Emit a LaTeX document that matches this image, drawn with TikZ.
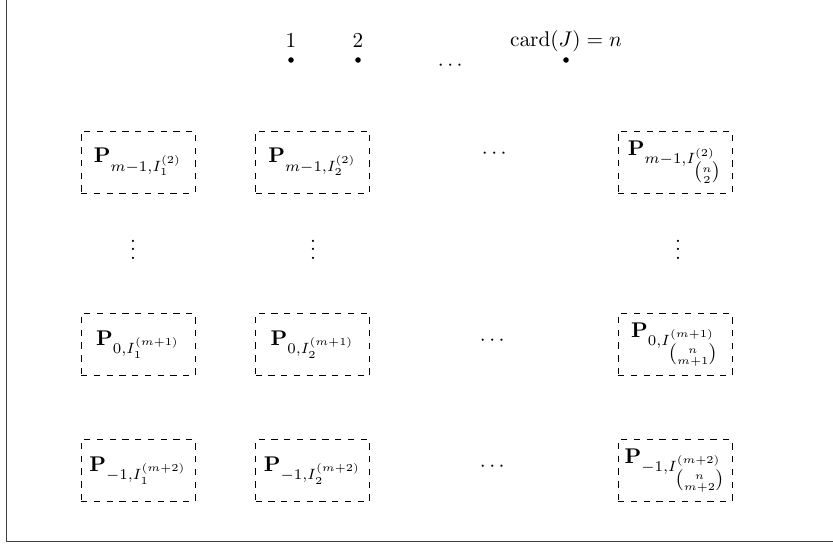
\documentclass[tikz,border=0pt]{standalone}
\usepackage{amsmath}
\begin{document}
\begin{tikzpicture}[x=0.4706pt,y=-0.4706pt,
  pbox/.style={draw,dashed,minimum width=53.6pt,minimum height=29.2pt,inner sep=0pt},
  dotnode/.style={circle,fill,inner sep=0pt,minimum size=2.6pt},
  frameline/.style={line width=0.6pt,black!75}]
\useasboundingbox (0,0) rectangle (833,543);
\coordinate (ftop) at (6.5,0);
\coordinate (fcorner) at (6.5,541.5);
\coordinate (fright) at (833,541.5);
\draw[frameline] (ftop) -- (fcorner) -- (fright);
% top labels
\node (l1) at (291,41) {$1$};
\node (l2) at (358,41) {$2$};
\node (ln) at (566,41) {$\mathrm{card}(J)=n$};
\node[dotnode] (d1) at (291,60) {};
\node[dotnode] (d2) at (358,60) {};
\node[dotnode] (dn) at (566,60) {};
\node (dt) at (452,66) {$\cdots$};
% row 1
\node[pbox] (a1) at (138,162) {$\mathbf{P}_{m-1,I_1^{(2)}}$};
\node[pbox] (a2) at (312.5,162) {$\mathbf{P}_{m-1,I_2^{(2)}}$};
\node (a3) at (496,154) {$\cdots$};
\node[pbox] (a4) at (675,162) {$\mathbf{P}_{m-1,I^{(2)}_{\binom{n}{2}}}$};
% vdots
\node (v1) at (133,243) {$\vdots$};
\node (v2) at (313,243) {$\vdots$};
\node (v4) at (678,243) {$\vdots$};
% row 2
\node[pbox] (b1) at (138,344.5) {$\mathbf{P}_{0,I_1^{(m+1)}}$};
\node[pbox] (b2) at (312.5,344.5) {$\mathbf{P}_{0,I_2^{(m+1)}}$};
\node (b3) at (494,341) {$\cdots$};
\node[pbox] (b4) at (675,344.5) {$\mathbf{P}_{0,I^{(m+1)}_{\binom{n}{m+1}}}$};
% row 3
\node[pbox] (c1) at (138,470.5) {$\mathbf{P}_{-1,I_1^{(m+2)}}$};
\node[pbox] (c2) at (312.5,470.5) {$\mathbf{P}_{-1,I_2^{(m+2)}}$};
\node (c3) at (494,467) {$\cdots$};
\node[pbox] (c4) at (675,470.5) {$\mathbf{P}_{-1,I^{(m+2)}_{\binom{n}{m+2}}}$};
\end{tikzpicture}
\end{document}
